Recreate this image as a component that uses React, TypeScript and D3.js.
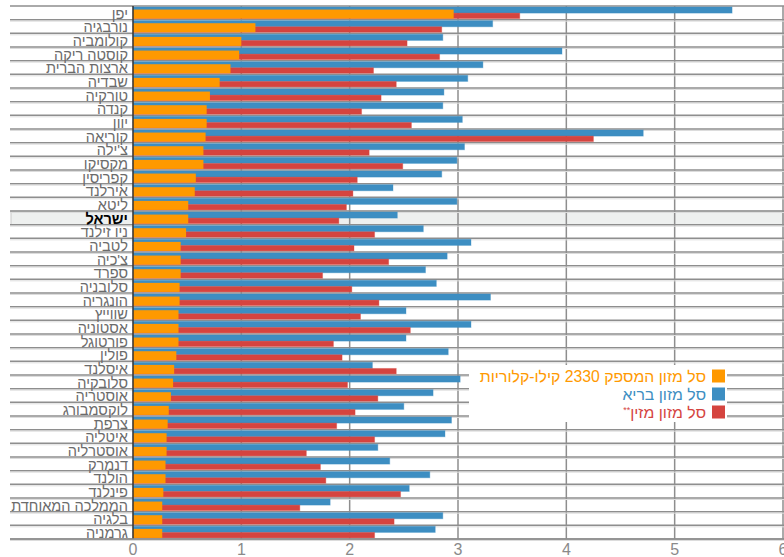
import React from 'react';
import * as d3 from 'd3';

const countries = [
  'יפן', 'נורבגיה', 'קולומביה', 'קוסטה ריקה', 'ארצות הברית', 'שבדיה', 'טורקיה', 'קנדה', 'יוון', 'קוריאה',
  "צ'ילה", 'מקסיקו', 'קפריסין', 'אירלנד', 'ליטא', 'ישראל', 'ניו זילנד', 'לטביה', "צ'כיה", 'ספרד',
  'סלובניה', 'הונגריה', 'שווייץ', 'אסטוניה', 'פורטוגל', 'פולין', 'איסלנד', 'סלובקיה', 'אוסטריה', 'לוקסמבורג',
  'צרפת', 'איטליה', 'אוסטרליה', 'דנמרק', 'הולנד', 'פינלנד', 'הממלכה המאוחדת', 'בלגיה', 'גרמניה',
];

const basket2330 = [
  2.96, 1.13, 1.0, 0.98, 0.9, 0.8, 0.71, 0.68, 0.68, 0.67,
  0.65, 0.65, 0.58, 0.57, 0.51, 0.51, 0.49, 0.44, 0.44, 0.44,
  0.43, 0.43, 0.42, 0.42, 0.42, 0.4, 0.38, 0.37, 0.35, 0.33,
  0.32, 0.31, 0.31, 0.3, 0.3, 0.28, 0.27, 0.27, 0.27,
];
const healthy = [
  5.53, 3.32, 2.86, 3.96, 3.23, 3.09, 2.87, 2.86, 3.04, 4.71,
  3.06, 2.99, 2.85, 2.4, 2.99, 2.44, 2.68, 3.12, 2.9, 2.7,
  2.8, 3.3, 2.52, 3.12, 2.52, 2.91, 2.21, 3.02, 2.77, 2.5,
  2.94, 2.88, 2.26, 2.37, 2.74, 2.55, 1.82, 2.86, 2.79,
];
const nutritious = [
  3.57, 2.85, 2.53, 2.83, 2.22, 2.43, 2.29, 2.11, 2.57, 4.25,
  2.18, 2.49, 2.07, 2.03, 1.97, 1.9, 2.23, 2.04, 2.36, 1.75,
  2.02, 2.27, 2.1, 2.56, 1.85, 1.93, 2.43, 1.98, 2.26, 2.05,
  1.88, 2.23, 1.6, 1.73, 1.78, 2.47, 1.54, 2.41, 2.23,
];
const xTicks = [0, 1, 2, 3, 4, 5, 6];
const highlight = 'ישראל';

const legendItems = [
  { label: 'סל מזון המספק 2330 קילו-קלוריות', color: '#ff9900', mark: '' },
  { label: 'סל מזון בריא', color: '#3d8ec2', mark: '' },
  { label: 'סל מזון מזין', color: '#d5443f', mark: '**' },
];

const W = 784;
const H = 557;
const margin = { top: 6, right: 1, bottom: 18, left: 133 };
const font = '"Liberation Sans", Arial, sans-serif';

export default function App() {
  const x = d3.scaleLinear().domain([0, 6]).range([margin.left, W - margin.right]);
  const y = d3.scaleBand<string>().domain(countries).range([margin.top, H - margin.bottom]);
  const bw = y.bandwidth();
  const grid = '#8e8e8e';

  return (
    <svg width={W} height={H} style={{ position: 'absolute', left: 0, top: 0, fontFamily: font }}>
      <rect width={W} height={H} fill="#fff" />
      {/* Israel highlight */}
      <rect x={11} y={y(highlight)!} width={W - 12} height={bw} fill="#eef0ef" stroke="#c9c9c9" />
      {/* vertical grid */}
      {xTicks.slice(1).map(t => (
        <line key={t} x1={x(t)} x2={x(t)} y1={margin.top} y2={H - margin.bottom} stroke={grid} strokeWidth={1.5} />
      ))}
      {/* row lines */}
      {countries.map((c, i) => (
        <g key={c}>
          {i === 0 && <line x1={10} x2={W} y1={y(c)!} y2={y(c)!} stroke={grid} strokeWidth={1.5} />}
          <line x1={10} x2={W} y1={y(c)! + bw} y2={y(c)! + bw} stroke={grid} strokeWidth={1.5} />
          <line x1={10} x2={W} y1={y(c)! + bw + 1.5} y2={y(c)! + bw + 1.5} stroke="#dcdcdc" strokeWidth={1} />
        </g>
      ))}
      {/* bars */}
      {countries.map((c, i) => {
        const y0 = y(c)!;
        return (
          <g key={c}>
            <rect x={x(0)} y={y0 + bw * 0.07} width={x(healthy[i]) - x(0)} height={bw * 0.45}
              fill="#3d8ec2" stroke="#3d8ec2" strokeOpacity={0.35} />
            <rect x={x(0)} y={y0 + bw * 0.52} width={x(nutritious[i]) - x(0)} height={bw * 0.4}
              fill="#d5443f" stroke="#d5443f" strokeOpacity={0.35} />
            <rect x={x(0)} y={y0 + bw * 0.26} width={x(basket2330[i]) - x(0)} height={bw * 0.66}
              fill="#ff9900" />
          </g>
        );
      })}
      {/* row labels */}
      {countries.map(c => (
        <g key={c} transform={`translate(128,${y(c)! + bw / 2}) scale(0.94,1)`}>
          <text dy="0.37em" textAnchor="end" fontSize={15.5}
            fill={c === highlight ? '#000' : '#6b6b6b'} fontWeight={c === highlight ? 'bold' : 'normal'}>
            {c}
          </text>
        </g>
      ))}
      {/* axes */}
      <line x1={x(0)} x2={x(0)} y1={margin.top} y2={H - margin.bottom} stroke="#333" strokeWidth={1.5} />
      <line x1={10} x2={W} y1={H - margin.bottom} y2={H - margin.bottom} stroke={grid} strokeWidth={1.5} />
      {xTicks.map(t => (
        <text key={t} x={x(t)} y={555} textAnchor="middle" fontSize={16} fill="#8a8a8a">{t}</text>
      ))}
      {/* legend */}
      <g>
        <rect x={469} y={365} width={258} height={57} fill="#fff" />
        {legendItems.map((d, i) => (
          <g key={d.label} transform={`translate(0,${376 + i * 18})`}>
            <rect x={712} y={-6.5} width={13} height={13} fill={d.color} />
            <text x={706} dy="0.35em" direction="rtl" textAnchor="start" fontSize={15.8} fill={d.color}>
              {d.label}
              {d.mark && <tspan fontSize={9} dy={-5}>{d.mark}</tspan>}
            </text>
          </g>
        ))}
      </g>
    </svg>
  );
}
